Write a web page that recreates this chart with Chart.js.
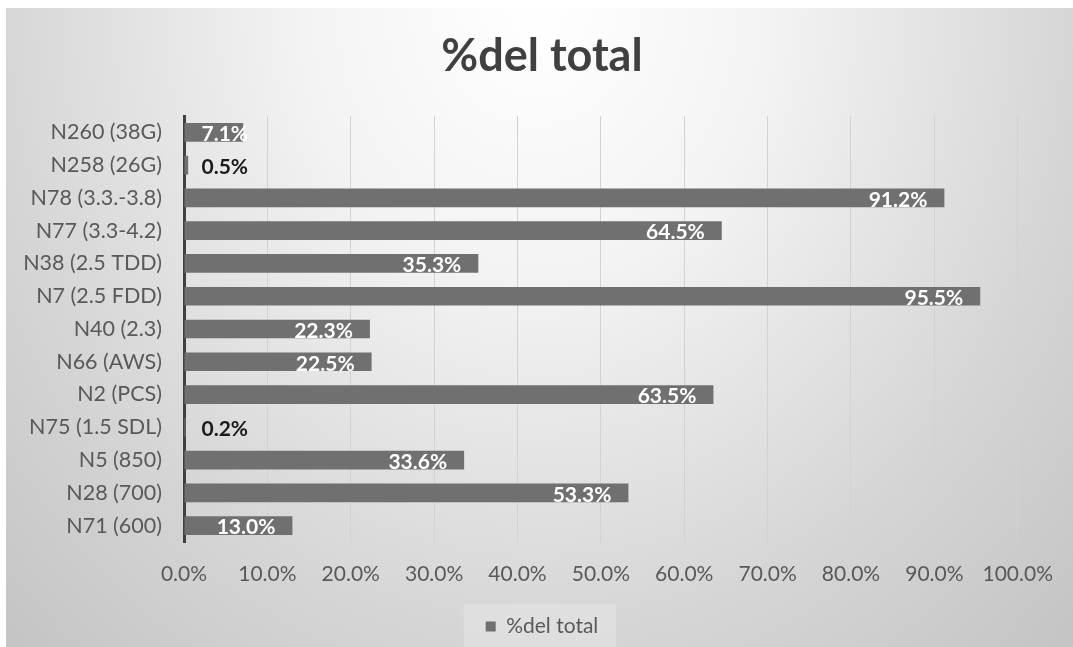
<!DOCTYPE html>
<html>
<head>
<meta charset="utf-8">
<script src="https://cdn.jsdelivr.net/npm/chart.js@4.4.1/dist/chart.umd.min.js"></script>
<style>
html,body{margin:0;padding:0;background:#fff;overflow:hidden;}
#wrap{position:absolute;left:0;top:0;width:1073px;height:647px;}
</style>
</head>
<body>
<div id="wrap"><canvas id="c" width="1073" height="647"></canvas></div>
<script>
const categories = ["N260 (38G)","N258 (26G)","N78 (3.3.-3.8)","N77 (3.3-4.2)","N38 (2.5 TDD)","N7 (2.5 FDD)","N40 (2.3)","N66 (AWS)","N2 (PCS)","N75 (1.5 SDL)","N5 (850)","N28 (700)","N71 (600)"];
const values = [7.1, 0.5, 91.2, 64.5, 35.3, 95.5, 22.3, 22.5, 63.5, 0.2, 33.6, 53.3, 13.0];
const seriesName = "%del total";
const titleText = "%del total";
const xTicks = [0,10,20,30,40,50,60,70,80,90,100];

const FONT = "Lato, 'Open Sans', sans-serif";

const bgPlugin = {
  id: 'bg',
  beforeDraw(chart) {
    const ctx = chart.ctx;
    const W = chart.width, H = chart.height;
    ctx.save();
    ctx.fillStyle = '#ffffff';
    ctx.fillRect(0, 0, W, H);
    const x0 = 6, y0 = 8;
    ctx.beginPath();
    ctx.rect(x0, y0, W - x0, H - y0);
    ctx.clip();
    const cx = W / 2, cy = y0;
    const rx = 780, ry = 900;
    ctx.translate(cx, cy);
    ctx.scale(rx / ry, 1);
    const g = ctx.createRadialGradient(0, 0, 0, 0, 0, ry);
    g.addColorStop(0, '#ffffff');
    g.addColorStop(0.3, '#f3f3f3');
    g.addColorStop(0.7, '#d5d5d5');
    g.addColorStop(1, '#c3c3c3');
    ctx.fillStyle = g;
    ctx.fillRect(-ry * 2, -10, ry * 4, H + 20);
    ctx.restore();
    const lg = chart.legend;
    if (lg && lg.legendHitBoxes && lg.legendHitBoxes.length) {
      const hb = lg.legendHitBoxes[0];
      ctx.save();
      ctx.fillStyle = 'rgba(255,255,255,0.22)';
      ctx.fillRect(hb.left - 22, hb.top - 12, hb.width + 40, H - (hb.top - 12));
      ctx.restore();
    }
  }
};

// centre title and legend over the whole picture rather than the padded layout width
const shiftPlugin = {
  id: 'shiftBlocks',
  afterLayout(chart) {
    const dx = (chart.width + 11) / 2 - (chart.chartArea ? (0 + chart.width - 54) / 2 : 0);
    [chart.titleBlock, chart.legend].forEach(b => {
      if (b) { b.left += dx; b.right += dx; }
    });
  }
};

const labelPlugin = {
  id: 'barLabels',
  afterDatasetsDraw(chart) {
    const ctx = chart.ctx;
    const meta = chart.getDatasetMeta(0);
    ctx.save();
    ctx.font = "bold 21px " + FONT;
    ctx.textBaseline = 'middle';
    ctx.textAlign = 'left';
    meta.data.forEach((bar, i) => {
      const txt = values[i].toFixed(1) + '%';
      const w = ctx.measureText(txt).width;
      const base = bar.base, end = bar.x;
      let left;
      if (end - base < 20) {
        ctx.fillStyle = '#1a1a1a';
        left = base + 17;
      } else {
        ctx.fillStyle = '#ffffff';
        left = end - 17 - w;
        if (left < base + 17) left = base + 17;
      }
      ctx.fillText(txt, left, bar.y + 2);
    });
    ctx.restore();
  }
};

new Chart(document.getElementById('c'), {
  type: 'bar',
  data: {
    labels: categories,
    datasets: [{
      label: seriesName,
      data: values,
      backgroundColor: '#707070',
      borderWidth: 0,
      barPercentage: 0.57,
      categoryPercentage: 1.0
    }]
  },
  options: {
    indexAxis: 'y',
    responsive: false,
    animation: false,
    devicePixelRatio: 1,
    layout: { padding: { left: 0, right: 54, top: 0, bottom: 0 } },
    scales: {
      x: {
        min: 0, max: 100,
        afterBuildTicks(scale) { scale.ticks = xTicks.map(v => ({ value: v })); },
        afterFit(scale) { scale.height = 64; },
        ticks: {
          padding: 20,
          color: '#595959',
          font: { family: FONT, size: 21 },
          callback: v => Number(v).toFixed(1) + '%'
        },
        grid: { color: '#d2d2d2', lineWidth: 1, drawTicks: false },
        border: { display: false }
      },
      y: {
        afterFit(scale) { scale.width = 184; },
        ticks: {
          padding: 22,
          color: '#595959',
          font: { family: FONT, size: 21.5 }
        },
        grid: { display: false, drawTicks: false },
        border: { display: true, color: '#404040', width: 3 }
      }
    },
    plugins: {
      title: {
        display: true,
        text: titleText,
        color: '#404040',
        font: { family: FONT, size: 45, weight: 'bold' },
        padding: { top: 29, bottom: 33 }
      },
      legend: {
        display: true,
        position: 'bottom',
        labels: {
          color: '#595959',
          font: { family: FONT, size: 21 },
          boxWidth: 10, boxHeight: 10,
          padding: 10
        }
      },
      tooltip: { enabled: false }
    }
  },
  plugins: [bgPlugin, shiftPlugin, labelPlugin]
});
</script>
</body>
</html>
